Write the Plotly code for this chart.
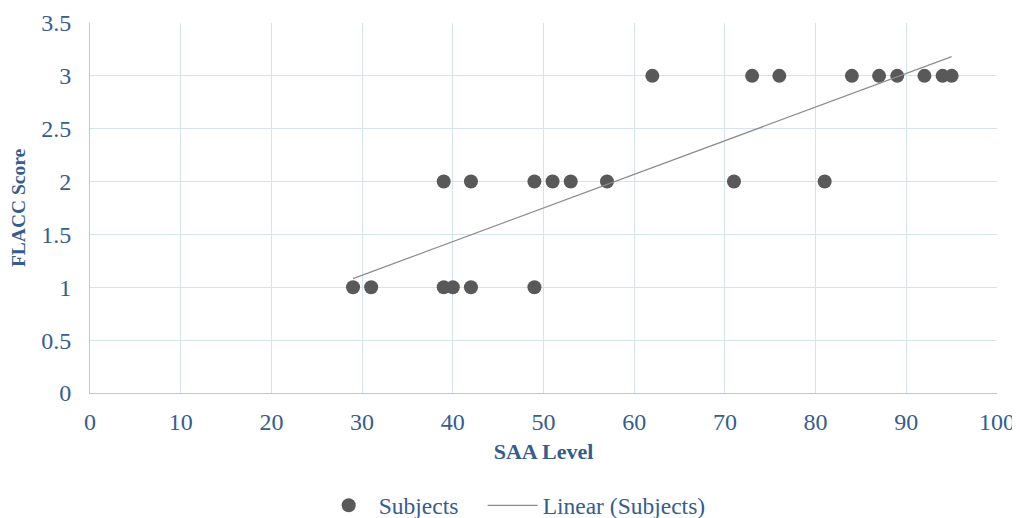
import numpy as np
import plotly.graph_objects as go

saa_level = [29, 31, 39, 40, 42, 49,
             39, 42, 49, 51, 53, 57, 71, 81,
             62, 73, 76, 84, 87, 89, 92, 94, 95]
flacc_score = [1, 1, 1, 1, 1, 1,
               2, 2, 2, 2, 2, 2, 2, 2,
               3, 3, 3, 3, 3, 3, 3, 3, 3]

x_ticks = list(range(0, 101, 10))
y_ticks = [0, 0.5, 1, 1.5, 2, 2.5, 3, 3.5]

slope, intercept = np.polyfit(saa_level, flacc_score, 1)
trend_x = [min(saa_level), max(saa_level)]
trend_y = [slope * v + intercept for v in trend_x]

text_color = "#365D8C"
font_family = "Liberation Serif, DejaVu Serif, serif"

fig = go.Figure()
fig.add_trace(go.Scatter(
    x=saa_level, y=flacc_score, mode="markers", name="Subjects",
    marker=dict(color="#595959", size=14, line=dict(width=0)),
    legend="legend",
))
fig.add_trace(go.Scatter(
    x=trend_x, y=trend_y, mode="lines", name="Linear (Subjects)",
    line=dict(color="#8C8C8C", width=1.2),
    legend="legend2",
))

legend_common = dict(orientation="h", xref="container", xanchor="left",
                     yref="container", y=0.0245, yanchor="middle",
                     font=dict(size=23.5, color=text_color), bgcolor="rgba(0,0,0,0)",
                     itemwidth=50)

fig.update_layout(
    width=1012, height=510,
    paper_bgcolor="white", plot_bgcolor="white",
    margin=dict(l=82, r=23, t=15, b=125),
    font=dict(family=font_family, color=text_color, size=22),
    showlegend=True,
    legend=dict(x=0.307, **legend_common),
    legend2=dict(x=0.469, **legend_common),
    xaxis=dict(
        range=[0, 100], tickvals=x_ticks, ticktext=[str(v) for v in x_ticks],
        showgrid=True, gridcolor="#D6E2F3", gridwidth=1,
        showline=True, linecolor="#B4C7E7", linewidth=1, mirror=False,
        zeroline=False, ticks="", ticklabelstandoff=7, automargin=False,
        tickfont=dict(size=24),
        title=dict(text="<b>SAA Level</b>", font=dict(size=22, color=text_color), standoff=9),
    ),
    yaxis=dict(
        range=[0, 3.5], tickvals=y_ticks, ticktext=[f"{v:g}" for v in y_ticks],
        showgrid=True, gridcolor="#D6E2F3", gridwidth=1,
        showline=True, linecolor="#B4C7E7", linewidth=1,
        zeroline=False, ticks="", ticklabelstandoff=13, automargin=False,
        tickfont=dict(size=24),
        title=dict(text="<b>FLACC Score</b>", font=dict(size=19.5, color=text_color)),
    ),
)

fig.write_html("out.html")
